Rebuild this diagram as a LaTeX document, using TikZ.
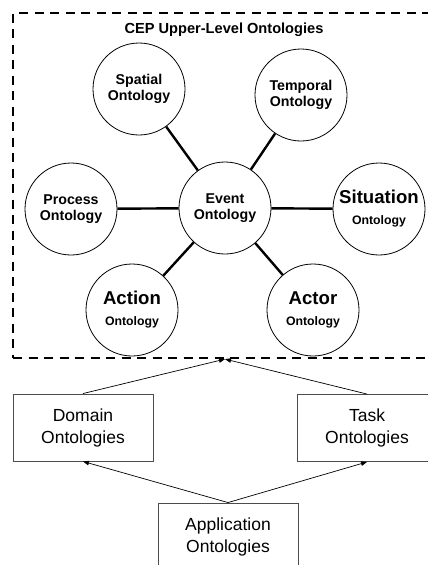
\documentclass[tikz,border=0pt]{standalone}
\usepackage{fontspec}
\setmainfont{Liberation Sans}
\usetikzlibrary{arrows.meta}

\tikzset{
  onto/.style={circle, draw, line width=0.8pt, minimum size=92pt, inner sep=0pt,
    align=center, font=\bfseries\fontsize{14.2}{16.5}\selectfont},
  bigonto/.style={onto, font=\bfseries\fontsize{12.3}{21}\selectfont},
  spoke/.style={line width=2.4pt},
  layerbox/.style={rectangle, draw=black!70, line width=0.9pt, minimum width=140pt,
    minimum height=67pt, inner sep=0pt, align=center, font=\fontsize{17.5}{22}\selectfont},
  frame/.style={rectangle, draw, line width=2.2pt, dash pattern=on 9pt off 6.5pt,
    minimum width=424pt, minimum height=345pt, inner sep=0pt},
  arr/.style={line width=0.7pt, -{Triangle[length=6pt,width=4.5pt]}}
}
\newcommand{\bigword}[1]{{\fontsize{18.6}{21}\selectfont #1}}

\begin{document}
\begin{tikzpicture}[x=1pt, y=-1pt]
  \clip (0,0) rectangle (428,565);

  % upper-level frame
  \node[frame] (cep) at (225,185.5) {};
  \node[font=\bfseries\fontsize{14.6}{17}\selectfont] (title) at (224,29.5) {CEP Upper-Level Ontologies};

  % ontology circles
  \node[onto] (event) at (225,208) {Event\\Ontology};
  \node[onto] (spatial) at (139,89) {Spatial\\Ontology};
  \node[onto] (temporal) at (301,95) {Temporal\\Ontology};
  \node[onto] (process) at (71,209) {Process\\Ontology};
  \node[bigonto] (situation) at (379,209) {\bigword{Situation}\\Ontology};
  \node[bigonto] (action) at (132,310) {\bigword{Action}\\Ontology};
  \node[bigonto] (actor) at (313,310) {\bigword{Actor}\\Ontology};

  \foreach \n in {spatial,temporal,process,situation,action,actor}
    \draw[spoke] (event) -- (\n);

  % lower layers
  \node[layerbox] (domain) at (83,427.5) {Domain\\Ontologies};
  \node[layerbox] (task) at (367,428) {Task\\Ontologies};
  \node[layerbox] (app) at (228,536.5) {Application\\Ontologies};

  \draw[arr] (domain.north) -- (cep.south);
  \draw[arr] (task.north) -- (cep.south);
  \draw[arr] (app.north) -- (domain.south);
  \draw[arr] (app.north) -- (task.south);
\end{tikzpicture}
\end{document}
